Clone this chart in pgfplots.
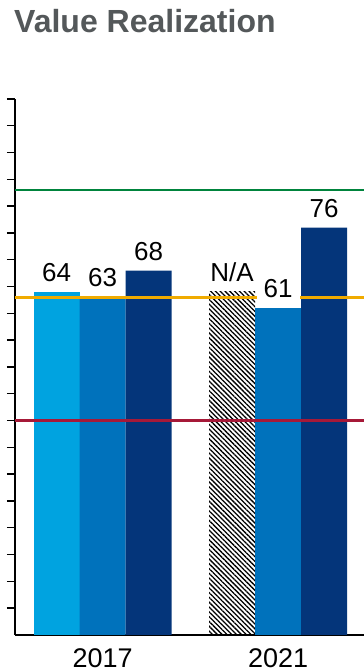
\documentclass[border=0pt]{standalone}
\usepackage{fontspec}
\setmainfont{Liberation Sans}
\usepackage{pgfplots}
\pgfplotsset{compat=1.18}
\usetikzlibrary{patterns.meta}

\definecolor{skyblue}{RGB}{0,163,224}
\definecolor{midblue}{RGB}{0,114,188}
\definecolor{navy}{RGB}{4,53,122}
\definecolor{goalgreen}{RGB}{0,132,61}
\definecolor{avgorange}{RGB}{240,171,0}
\definecolor{lowred}{RGB}{166,25,56}
\definecolor{titlegray}{RGB}{84,88,90}

\tikzset{label node/.style={font=\fontsize{26bp}{30bp}\selectfont, anchor=south,
  inner ysep=10bp, inner xsep=7bp, text=black}}

\begin{document}
\begin{tikzpicture}
\useasboundingbox (0,0) rectangle (364bp,672bp);
\node[anchor=base west, inner sep=0pt, text=titlegray,
      font=\fontsize{32bp}{36bp}\selectfont\bfseries]
  at (14bp,639bp) {Value Realization};
\begin{axis}[
  at={(15bp,37bp)}, anchor=south west,
  scale only axis, width=349bp, height=536bp,
  xmin=-0.5, xmax=1.49, ymin=0, ymax=100,
  axis lines*=left,
  axis line style={black, line width=1.6bp},
  xtick={0,1}, xticklabels={2017,2021},
  ytick={5,10,...,100}, yticklabels={},
  tick align=outside, major tick length=8bp,
  xtick style={draw=none},
  ytick style={black, line width=1.4bp},
  xticklabel style={font=\fontsize{27bp}{30bp}\selectfont, inner sep=0pt, anchor=north, yshift=-5bp},
  bar width=46bp,
]
% bars
\addplot[ybar, bar shift=-46bp, fill=skyblue, draw=none] coordinates {(0,64)};
\addplot[ybar, bar shift=-46bp, draw=none,
  pattern={Lines[angle=-45, distance=3.4bp, line width=1.3bp]}] coordinates {(1,64)};
\addplot[ybar, bar shift=0bp, fill=midblue, draw=none] coordinates {(0,63) (1,61)};
\addplot[ybar, bar shift=46bp, fill=navy, draw=none] coordinates {(0,68) (1,76)};
% reference lines
\addplot[goalgreen, line width=2.4bp] coordinates {(-0.5,83) (1.49,83)};
\addplot[avgorange, line width=2.4bp] coordinates {(-0.5,63) (1.49,63)};
\addplot[lowred, line width=2.4bp] coordinates {(-0.5,40) (1.49,40)};
% value labels
\addplot[draw=none, mark=none,
  point meta=explicit symbolic, nodes near coords,
  every node near coord/.style={label node, xshift=-46bp}] coordinates {(0,64) [64] (1,64) [N/A]};
\addplot[draw=none, mark=none,
  point meta=explicit symbolic, nodes near coords,
  every node near coord/.style={label node}] coordinates {(0,63) [63]};
\addplot[draw=none, mark=none,
  point meta=explicit symbolic, nodes near coords,
  every node near coord/.style={label node, fill=white}] coordinates {(1,61) [61]};
\addplot[draw=none, mark=none,
  point meta=explicit symbolic, nodes near coords,
  every node near coord/.style={label node, xshift=46bp}] coordinates {(0,68) [68] (1,76) [76]};
\end{axis}
\end{tikzpicture}
\end{document}
